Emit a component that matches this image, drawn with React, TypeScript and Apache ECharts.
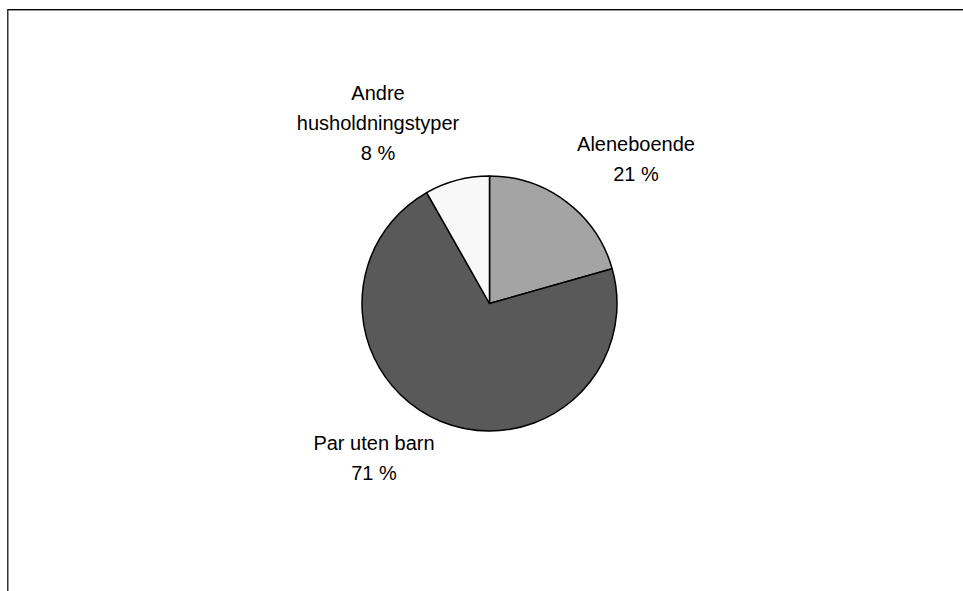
import React, { useEffect, useRef } from "react";
import * as echarts from "echarts";

const categories = ["Aleneboende", "Par uten barn", "Andre\nhusholdningstyper"];
const values = [20.6, 71.2, 8.2];
const colors = ["#a4a4a4", "#595959", "#f8f8f8"];
const labelPos: [number, number][] = [
  [636, 159],
  [374, 458],
  [378, 123],
];

export default function App() {
  const ref = useRef<HTMLDivElement>(null);
  useEffect(() => {
    if (!ref.current) return;
    const chart = echarts.init(ref.current, null, { renderer: "svg" });
    chart.setOption({
      animation: false,
      backgroundColor: "#ffffff",
      graphic: [
        {
          type: "line",
          shape: { x1: 7, y1: 9.5, x2: 963, y2: 9.5 },
          style: { stroke: "#000000", lineWidth: 1 },
        },
        {
          type: "line",
          shape: { x1: 8, y1: 10.5, x2: 963, y2: 10.5 },
          style: { stroke: "#9a9a9a", lineWidth: 1 },
        },
        {
          type: "line",
          shape: { x1: 7.75, y1: 9, x2: 7.75, y2: 591 },
          style: { stroke: "#333333", lineWidth: 1.5 },
        },
      ],
      series: [
        {
          type: "pie",
          center: [489.5, 303.5],
          radius: [0, 127.5],
          startAngle: 90,
          clockwise: true,
          silent: true,
          itemStyle: { borderColor: "#000000", borderWidth: 1.5 },
          label: {
            show: true,
            position: "outside",
            color: "#000000",
            fontFamily: "'Liberation Sans', Arial, sans-serif",
            fontSize: 20,
            lineHeight: 30,
            align: "center",
            formatter: (p: any) => `${p.name}\n${Math.round(p.value)} %`,
          },
          labelLine: { show: false },
          labelLayout: (p: any) => ({
            x: labelPos[p.dataIndex][0],
            y: labelPos[p.dataIndex][1],
            align: "center",
            verticalAlign: "middle",
          }),
          data: categories.map((name, i) => ({
            name,
            value: values[i],
            itemStyle: { color: colors[i] },
          })),
        },
      ],
    });
    return () => chart.dispose();
  }, []);
  return (
    <div
      ref={ref}
      style={{ position: "absolute", left: 0, top: 0, width: 963, height: 591 }}
    />
  );
}
